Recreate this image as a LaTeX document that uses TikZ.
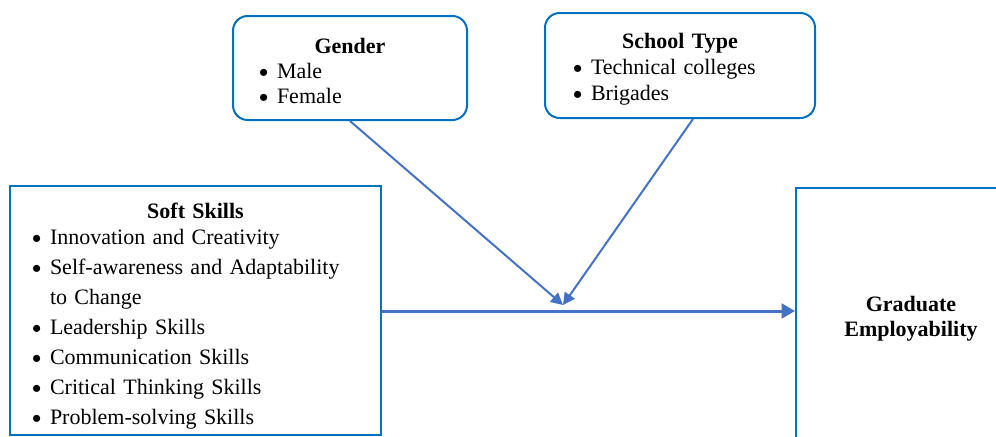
\documentclass[tikz,border=0pt]{standalone}
\usepackage{fontspec}
\setmainfont{Liberation Serif}
\usetikzlibrary{positioning,arrows.meta}
\definecolor{boxblue}{RGB}{0,112,192}
\definecolor{lineblue}{RGB}{68,114,196}
\newlength{\bulgap}
\setlength{\bulgap}{13.5pt}
\newcommand{\bul}[1]{\par\noindent\hangindent=\bulgap\hangafter=1\makebox[\bulgap][l]{\raisebox{0.4pt}{\scalebox{0.8}{$\bullet$}}}#1}
\newcommand{\boxtitle}[1]{\makebox[\linewidth][c]{\bfseries #1}}

\begin{document}
\begin{tikzpicture}[x=0.75pt ,y=-0.75pt ,
semithick ,
card/.style ={ rectangle ,draw =boxblue ,line width =1.5pt ,inner ysep =0pt ,
anchor =north ,font =\fontsize{16.5}{18.75}\selectfont},
modcard/.style ={ card ,rounded corners =11pt},
link/.style ={ draw =lineblue ,line width =1.5pt ,-{Triangle[length =9pt ,width =9pt]}},
mainlink/.style ={ draw =lineblue ,line width =2.25pt ,-{Triangle[length =10pt ,width =11pt]}}]
\useasboundingbox (0,0) rectangle (996,436);
% moderators
\node[modcard ,inner xsep =19.5pt ,text width =136.5pt ,text height =27.75pt ,text depth =50.25pt] (G) at (350,15)
 {\boxtitle{Gender}\bul{Male}\bul{Female}};
\node[modcard ,inner xsep =21pt ,text width =160.5pt ,text height =26.25pt ,text depth =52.5pt ,
font =\fontsize{16.5}{19.5}\selectfont] (T) at (680,12)
 {\boxtitle{School Type}\bul{Technical colleges}\bul{Brigades}};
% independent and dependent
\node[card ,inner xsep =16.5pt ,text width =245.25pt ,text height =24pt ,text depth =162.75pt ,
font =\fontsize{16.5}{22.5}\selectfont] (S) at (195.5,185)
 {\boxtitle{Soft Skills}\par\vspace{-3pt}%
 \bul{Innovation and Creativity}%
 \bul{Self-awareness and Adaptability\newline to Change}%
 \bul{Leadership Skills}%
 \bul{Communication Skills}%
 \bul{Critical Thinking Skills}%
 \bul{Problem-solving Skills}};
\node[card ,inner xsep =7.5pt ,text width =157.5pt ,align =center ,text height =92.25pt ,text depth =101.25pt] (E) at (911,187)
 {\textbf{Graduate}\\\textbf{Employability}};
\coordinate (J) at (563,311);
\coordinate (M) at (563,305);
\path[mainlink] (S.east |- J) -- (E.west |- J);
\path[link] (G.south) -- (M);
\path[link] ([xshift =9.75pt]T.south) -- (M);
\end{tikzpicture}
\end{document}
